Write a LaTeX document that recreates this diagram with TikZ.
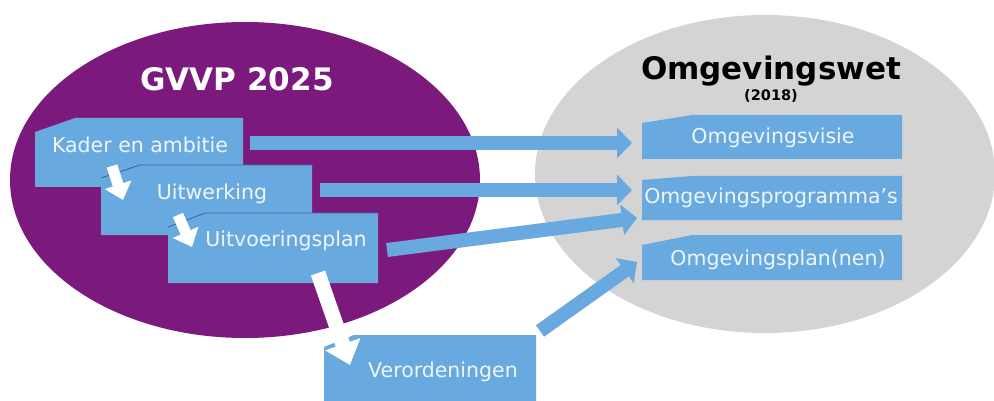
\documentclass[tikz,border=0pt]{standalone}
\usepackage{fontspec}
\setmainfont{DejaVu Sans}
\usetikzlibrary{arrows.meta,calc}
\definecolor{gvvp}{HTML}{7B1A7C}
\definecolor{wetgray}{HTML}{D4D4D4}
\definecolor{boxblue}{HTML}{68A9DF}
\definecolor{boxedge}{HTML}{3D63A8}
\definecolor{boxtext}{HTML}{EEF6FC}
\tikzset{
  boxtxt/.style={anchor=base, inner sep=0, text=boxtext, font=\fontsize{20.5}{24}\selectfont},
  boxarea/.style={inner sep=0, outer sep=0},
  bluearrow/.style={draw=boxblue, line width=14pt, -{Triangle[width=30pt,length=15pt]}},
  whitesmall/.style={draw=white, line width=11pt, -{Triangle[width=27pt,length=16pt]}},
  whitebig/.style={draw=white, line width=15pt, -{Triangle[width=36pt,length=22pt]}},
}
\newcommand{\cutbox}[7]{%
  \fill[boxblue] (#2,#3+#7) -- (#2+#6,#3) -- (#4,#3) -- (#4,#5) -- (#2,#5) -- cycle;
  \node[boxarea, minimum width={#4-#2}, minimum height={#5-#3}] (#1) at ({(#2+#4)/2},{(#3+#5)/2}) {};
}
\begin{document}
\begin{tikzpicture}[x=1pt,y=-1pt]
\useasboundingbox (0,0) rectangle (994,401);
% ellipses
\fill[gvvp] (245,180) ellipse [x radius=235, y radius=158];
\fill[wetgray] (765,174) ellipse [x radius=230, y radius=159];
% titles
\node[anchor=base, inner sep=0, text=white, font=\bfseries\fontsize{31}{36}\selectfont] (gvvptitle) at (237,91) {GVVP 2025};
\node[anchor=base, inner sep=0, text=black, font=\bfseries\fontsize{31}{36}\selectfont] (wettitle) at (771,80) {Omgevingswet};
\node[anchor=base, inner sep=0, text=black, font=\bfseries\fontsize{14.5}{16}\selectfont] (wetyear) at (771,101) {(2018)};
% left boxes
\cutbox{kader}{35}{118}{243}{187}{40}{14}
\node[boxtxt] (kadert) at (140,153) {Kader en ambitie};
\cutbox{uitw}{101}{165}{312}{235}{39}{13}
\draw[boxedge, line width=0.8pt] (101,178) -- (140,165) -- (312,165);
\node[boxtxt] (uitwt) at (212,200) {Uitwerking};
\cutbox{uitv}{168}{213}{378}{283}{37}{14}
\draw[boxedge, line width=0.8pt] (168,227) -- (205,213) -- (378,213);
\node[boxtxt] (uitvt) at (286,247) {Uitvoeringsplan};
\cutbox{verord}{324}{335}{536}{401}{30}{12}
\node[boxtxt] (verordt) at (443,377) {Verordeningen};
% right boxes
\cutbox{visie}{642}{115}{902}{159}{50}{8}
\node[boxtxt] (visiet) at (773,144) {Omgevingsvisie};
\cutbox{prog}{642}{176}{902}{220}{50}{4}
\node[boxtxt] (progt) at (771,204) {Omgevingsprogramma’s};
\cutbox{plan}{642}{235}{902}{280}{50}{10}
\node[boxtxt] (plant) at (778,265) {Omgevingsplan(nen)};
% white arrows
\draw[whitesmall] ($(kader.south west)+(77,-21)$) -- ($(uitw.north west)+(22,35)$);
\draw[whitesmall] ($(uitw.south west)+(77,-20)$) -- ($(uitv.north west)+(24,34)$);
\draw[whitebig] ($(uitv.south west)+(150,-10)$) -- ($(verord.north west)+(26,30)$);
% blue arrows
\draw[bluearrow] ($(kader.east)+(7,-9.5)$) -- ($(visie.west)+(-10,6)$);
\draw[bluearrow] ($(uitw.east)+(8,-10)$) -- ($(prog.west)+(-10,-8)$);
\draw[bluearrow] ($(uitv.east)+(9,2)$) -- ($(prog.west)+(-5,20)$);
\draw[bluearrow] ($(verord.north east)+(4,-4)$) -- ($(plan.west)+(-5,4.5)$);
\end{tikzpicture}
\end{document}
